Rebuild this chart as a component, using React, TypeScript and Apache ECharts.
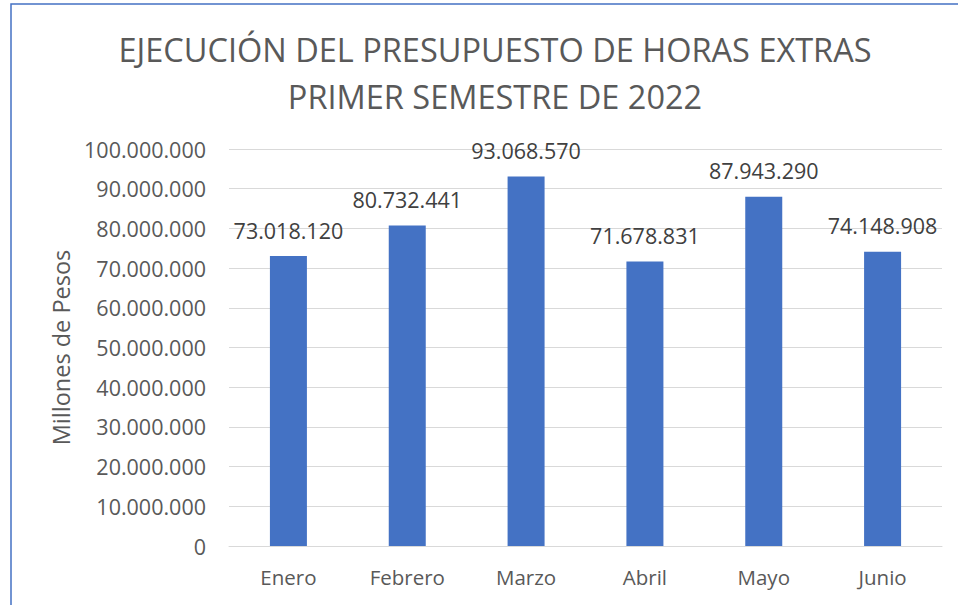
import React, { useEffect, useRef } from "react";
import * as echarts from "echarts";

const categories = ["Enero", "Febrero", "Marzo", "Abril", "Mayo", "Junio"];
const values = [73018120, 80732441, 93068570, 71678831, 87943290, 74148908];
const titleLines = ["EJECUCIÓN DEL PRESUPUESTO DE HORAS EXTRAS", "PRIMER SEMESTRE DE 2022"];
const yAxisName = "Millones de Pesos";

const fmt = (v: number) => String(Math.round(v)).replace(/\B(?=(\d{3})+(?!\d))/g, ".");
const FONT = "'Open Sans', 'Noto Sans', sans-serif";

export default function App() {
  const ref = useRef<HTMLDivElement>(null);
  useEffect(() => {
    if (!ref.current) return;
    const chart = echarts.init(ref.current, null, { renderer: "svg" });
    chart.setOption({
      animation: false,
      backgroundColor: "#ffffff",
      title: {
        text: titleLines.join("\n"),
        left: 490,
        textAlign: "center",
        top: 21,
        textStyle: { fontFamily: FONT, fontSize: 32.5, fontWeight: "normal", color: "#595959", lineHeight: 47 },
      },
      graphic: [
        {
          type: "rect",
          shape: { x: 11, y: 4, width: 1000, height: 700 },
          style: { fill: "none", stroke: "#4472C4", lineWidth: 1.5 },
          silent: true,
        },
      ],
      grid: { left: 229, right: 16, top: 149, bottom: 59 },
      xAxis: {
        type: "category",
        data: categories,
        axisTick: { show: false },
        axisLine: { lineStyle: { color: "#d9d9d9" } },
        axisLabel: { fontFamily: FONT, fontSize: 20.5, color: "#595959", margin: 20 },
      },
      yAxis: {
        type: "value",
        min: 0,
        max: 100000000,
        interval: 10000000,
        name: yAxisName,
        nameLocation: "middle",
        nameGap: 155,
        nameTextStyle: { fontFamily: FONT, fontSize: 23.5, color: "#595959" },
        axisLine: { show: false },
        axisTick: { show: false },
        splitLine: { lineStyle: { color: "#d9d9d9", width: 1 } },
        axisLabel: { fontFamily: FONT, fontSize: 21.5, color: "#595959", margin: 23, formatter: (v: number) => fmt(v) },
      },
      series: [
        {
          type: "bar",
          data: values,
          barWidth: 37,
          itemStyle: { color: "#4472C4" },
          label: {
            show: true,
            position: "top",
            distance: 15,
            fontFamily: FONT,
            fontSize: 21.5,
            color: "#404040",
            formatter: (p: any) => fmt(p.value),
          },
        },
      ],
    });
    return () => chart.dispose();
  }, []);
  return <div ref={ref} style={{ position: "fixed", left: 0, top: 0, width: 958, height: 605 }} />;
}
